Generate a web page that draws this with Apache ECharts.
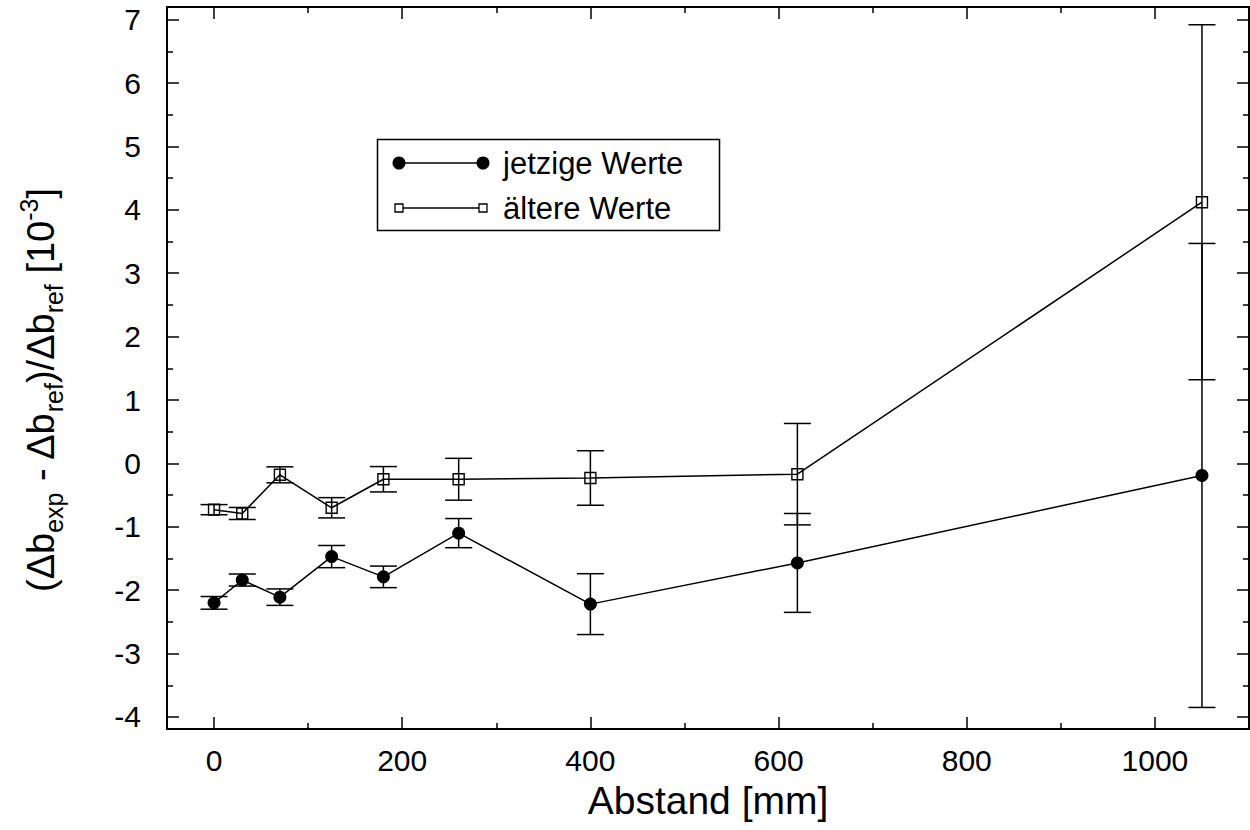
<!DOCTYPE html>
<html><head><meta charset="utf-8">
<script src="https://cdn.jsdelivr.net/npm/echarts@6/dist/echarts.min.js"></script>
<style>html,body{margin:0;padding:0;background:#fff}#c{width:1250px;height:830px}</style>
</head><body><div id="c"></div>
<script>
// ---- data ----
const distances = [0, 30, 70, 125, 180, 260, 400, 620, 1050];
const currentValues = [-2.20, -1.84, -2.11, -1.47, -1.79, -1.10, -2.22, -1.57, -0.19];
const currentErrors = [0.10, 0.095, 0.13, 0.175, 0.17, 0.23, 0.48, 0.78, 3.66];
const olderValues = [-0.73, -0.79, -0.18, -0.70, -0.25, -0.25, -0.23, -0.17, 4.12];
const olderErrors = [0.08, 0.095, 0.126, 0.16, 0.20, 0.33, 0.43, 0.80, 2.80];
const seriesNames = ['jetzige Werte', 'ältere Werte'];
const xTickLabels = [0, 200, 400, 600, 800, 1000];
const xMinorTicks = [100, 300, 500, 700, 900];
const yTickLabels = [-4, -3, -2, -1, 0, 1, 2, 3, 4, 5, 6, 7];
const yMinorTicks = [-3.5, -2.5, -1.5, -0.5, 0.5, 1.5, 2.5, 3.5, 4.5, 5.5, 6.5];
const xAxisTitle = 'Abstand [mm]';

const FONT = '"Liberation Sans", Arial, Helvetica, sans-serif';
const chart = echarts.init(document.getElementById('c'), null, {renderer: 'svg'});

const tickStyle = {color: '#000', width: 1.5};
function xAxisDef(pos, ticks, len, labels) {
  return {
    type: 'value', min: -50, max: 1100, position: pos, gridIndex: 0,
    splitLine: {show: false},
    axisLine: {show: true, onZero: false, lineStyle: {color: '#000', width: 2}},
    axisTick: {show: true, inside: true, length: len, customValues: ticks, lineStyle: tickStyle},
    axisLabel: labels ? {show: true, customValues: labels, margin: 16, fontSize: 30, color: '#000', fontFamily: FONT, formatter: v => String(v)} : {show: false}
  };
}
function yAxisDef(pos, ticks, len, labels) {
  return {
    type: 'value', min: -4.19, max: 7.2, position: pos, gridIndex: 0,
    splitLine: {show: false},
    axisLine: {show: true, onZero: false, lineStyle: {color: '#000', width: 2}},
    axisTick: {show: true, inside: true, length: len, customValues: ticks, lineStyle: tickStyle},
    axisLabel: labels ? {show: true, customValues: labels, margin: 26, fontSize: 30, color: '#000', fontFamily: FONT, formatter: v => String(v)} : {show: false}
  };
}

function errorSeries(vals, errs, name) {
  return {
    type: 'custom', name: name + ' Fehler', xAxisIndex: 0, yAxisIndex: 0, silent: true, z: 1,
    data: distances.map((d, i) => [d, vals[i] - errs[i], vals[i] + errs[i]]),
    encode: {x: 0, y: [1, 2]},
    renderItem: (params, api) => {
      const lo = api.coord([api.value(0), api.value(1)]);
      const hi = api.coord([api.value(0), api.value(2)]);
      const hw = 13.5;
      const st = {stroke: '#000', lineWidth: 1.5};
      return {type: 'group', children: [
        {type: 'line', shape: {x1: lo[0], y1: lo[1], x2: hi[0], y2: hi[1]}, style: st},
        {type: 'line', shape: {x1: lo[0] - hw, y1: lo[1], x2: lo[0] + hw, y2: lo[1]}, style: st},
        {type: 'line', shape: {x1: hi[0] - hw, y1: hi[1], x2: hi[0] + hw, y2: hi[1]}, style: st}
      ]};
    }
  };
}

const xMain = xAxisDef('bottom', xTickLabels, 12, xTickLabels);
xMain.name = xAxisTitle;
xMain.nameLocation = 'middle';
xMain.nameGap = 52;
xMain.nameTextStyle = {fontSize: 39, color: '#000', fontFamily: FONT};

const option = {
  animation: false,
  backgroundColor: '#fff',
  grid: {left: 167, right: 1, top: 7, bottom: 101, containLabel: false},
  xAxis: [
    xMain,
    xAxisDef('bottom', xMinorTicks, 6, null),
    xAxisDef('top', xTickLabels, 12, null),
    xAxisDef('top', xMinorTicks, 6, null)
  ],
  yAxis: [
    yAxisDef('left', yTickLabels, 12, yTickLabels),
    yAxisDef('left', yMinorTicks, 6, null),
    yAxisDef('right', yTickLabels, 12, null),
    yAxisDef('right', yMinorTicks, 6, null)
  ],
  series: [
    errorSeries(currentValues, currentErrors, seriesNames[0]),
    errorSeries(olderValues, olderErrors, seriesNames[1]),
    {
      type: 'line', name: seriesNames[0], xAxisIndex: 0, yAxisIndex: 0, z: 3,
      data: distances.map((d, i) => [d, currentValues[i]]),
      symbol: 'circle', symbolSize: 13,
      itemStyle: {color: '#000', borderColor: '#000', borderWidth: 0},
      lineStyle: {color: '#000', width: 1.5}
    },
    {
      type: 'line', name: seriesNames[1], xAxisIndex: 0, yAxisIndex: 0, z: 3,
      data: distances.map((d, i) => [d, olderValues[i]]),
      symbol: 'rect', symbolSize: 11,
      itemStyle: {color: 'rgba(255,255,255,0)', borderColor: '#000', borderWidth: 1.4},
      lineStyle: {color: '#000', width: 1.5}
    }
  ],
  graphic: [
    {
      type: 'text', x: 41, y: 390, rotation: Math.PI / 2, silent: true,
      style: {
        text: '{m|(Δb}{s|exp}{m| - Δb}{s|ref}{m|)/Δb}{s|ref}{m| [10}{p|-3}{m|]}',
        align: 'center', verticalAlign: 'middle', textAlign: 'center', textVerticalAlign: 'middle',
        fill: '#000', fontFamily: FONT,
        rich: {
          m: {fontSize: 38, lineHeight: 50, verticalAlign: 'middle', fontFamily: FONT, fill: '#000'},
          s: {fontSize: 25, lineHeight: 25, verticalAlign: 'bottom', fontFamily: FONT, fill: '#000'},
          p: {fontSize: 25, lineHeight: 25, verticalAlign: 'top', fontFamily: FONT, fill: '#000'}
        }
      }
    },
    {
      type: 'group', silent: true, children: [
        {type: 'rect', shape: {x: 377.5, y: 139.5, width: 342, height: 91}, style: {fill: '#fff', stroke: '#000', lineWidth: 1.5}},
        {type: 'line', shape: {x1: 399, y1: 163, x2: 483, y2: 163}, style: {stroke: '#000', lineWidth: 1.5}},
        {type: 'circle', shape: {cx: 399, cy: 163, r: 6.5}, style: {fill: '#000'}},
        {type: 'circle', shape: {cx: 483, cy: 163, r: 6.5}, style: {fill: '#000'}},
        {type: 'text', x: 503, y: 163, style: {text: seriesNames[0], fontSize: 31, fontFamily: FONT, fill: '#000', align: 'left', verticalAlign: 'middle', textAlign: 'left', textVerticalAlign: 'middle'}},
        {type: 'line', shape: {x1: 399, y1: 208, x2: 483, y2: 208}, style: {stroke: '#000', lineWidth: 1.5}},
        {type: 'rect', shape: {x: 395, y: 204, width: 8, height: 8}, style: {fill: '#fff', stroke: '#000', lineWidth: 1.3}},
        {type: 'rect', shape: {x: 479, y: 204, width: 8, height: 8}, style: {fill: '#fff', stroke: '#000', lineWidth: 1.3}},
        {type: 'text', x: 503, y: 208, style: {text: seriesNames[1], fontSize: 31, fontFamily: FONT, fill: '#000', align: 'left', verticalAlign: 'middle', textAlign: 'left', textVerticalAlign: 'middle'}}
      ]
    }
  ]
};
chart.setOption(option);
</script>
</body></html>
